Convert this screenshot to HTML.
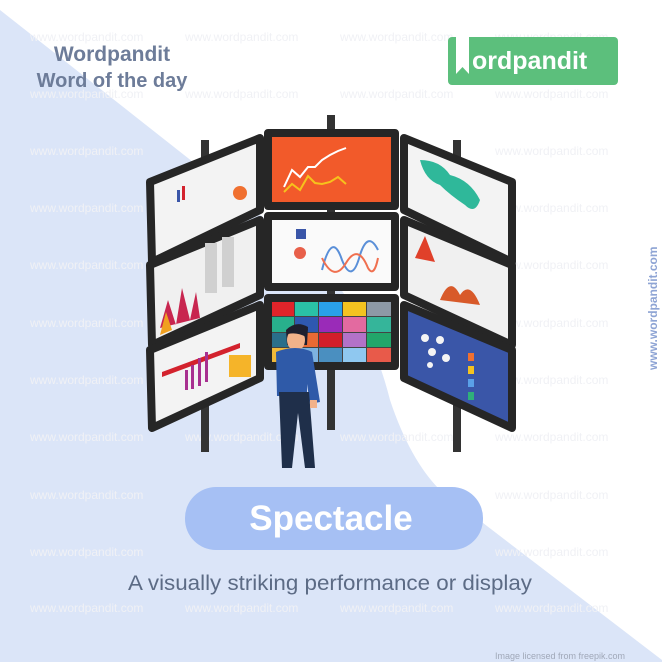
<!DOCTYPE html>
<html><head><meta charset="utf-8"><style>
body{margin:0;width:662px;height:662px;overflow:hidden;background:#fff;font-family:"Liberation Sans",sans-serif}
svg{display:block}
</style></head><body>
<svg width="662" height="662" viewBox="0 0 662 662" xmlns="http://www.w3.org/2000/svg">
<path d="M0,10 L320,262 Q370,320 390,400 Q410,460 440,490 L662,660 L662,662 L0,662 Z" fill="#dbe5f8"/>
<g font-family="Liberation Sans,sans-serif" font-size="12" fill="#f0f1f5">
<text x="30" y="41">www.wordpandit.com</text><text x="185" y="41">www.wordpandit.com</text><text x="340" y="41">www.wordpandit.com</text><text x="495" y="41">www.wordpandit.com</text>
<text x="30" y="98">www.wordpandit.com</text><text x="185" y="98">www.wordpandit.com</text><text x="340" y="98">www.wordpandit.com</text><text x="495" y="98">www.wordpandit.com</text>
<text x="30" y="155">www.wordpandit.com</text><text x="495" y="155">www.wordpandit.com</text>
<text x="30" y="212">www.wordpandit.com</text><text x="495" y="212">www.wordpandit.com</text>
<text x="30" y="269">www.wordpandit.com</text><text x="495" y="269">www.wordpandit.com</text>
<text x="30" y="327">www.wordpandit.com</text><text x="495" y="327">www.wordpandit.com</text>
<text x="30" y="384">www.wordpandit.com</text><text x="495" y="384">www.wordpandit.com</text>
<text x="30" y="441">www.wordpandit.com</text><text x="185" y="441">www.wordpandit.com</text><text x="340" y="441">www.wordpandit.com</text><text x="495" y="441">www.wordpandit.com</text>
<text x="30" y="499">www.wordpandit.com</text><text x="495" y="499">www.wordpandit.com</text>
<text x="30" y="556">www.wordpandit.com</text><text x="495" y="556">www.wordpandit.com</text>
<text x="30" y="612">www.wordpandit.com</text><text x="185" y="612">www.wordpandit.com</text><text x="340" y="612">www.wordpandit.com</text><text x="495" y="612">www.wordpandit.com</text>
</g>
<text x="112" y="61" text-anchor="middle" font-size="21" font-weight="bold" fill="#6d7c99">Wordpandit</text>
<text x="112" y="87" text-anchor="middle" font-size="20" font-weight="bold" fill="#6d7c99">Word of the day</text>
<rect x="448" y="37" width="170" height="48" rx="4" fill="#5cbf7c"/>
<path d="M456,34 h13 v40 l-6.5,-7 l-6.5,7 z" fill="#fff"/>
<text x="472" y="69" font-size="25" font-weight="bold" fill="#fff">ordpandit</text>
<text transform="translate(657,370) rotate(-90)" font-size="12" font-weight="bold" fill="#8ea4d4">www.wordpandit.com</text>
<g fill="#333">
<rect x="201" y="140" width="8" height="312"/><rect x="327" y="115" width="8" height="315"/><rect x="453" y="140" width="8" height="312"/>
</g>
<g stroke="#262626" stroke-width="8" stroke-linejoin="round">
<polygon points="150,182 260,138 260,210 152,262" fill="#f3f3f3"/>
<polygon points="150,265 260,220 260,295 152,345" fill="#f0f0f0"/>
<polygon points="150,350 260,305 260,378 152,428" fill="#f3f3f3"/>
<polygon points="404,138 512,182 512,262 404,210" fill="#f3f3f3"/>
<polygon points="404,220 512,265 512,345 404,295" fill="#f0f0f0"/>
<polygon points="404,305 512,350 512,428 404,378" fill="#3a56a8"/>
<rect x="268" y="133" width="127" height="73" fill="#f25a2a"/>
<rect x="268" y="216" width="127" height="71" fill="#fafafa"/>
<rect x="268" y="298" width="127" height="68" fill="#444"/>
</g>
<g>
<rect x="272" y="302" width="22" height="14" fill="#e0242a"/><rect x="295" y="302" width="23" height="14" fill="#2ac1a6"/><rect x="319" y="302" width="23" height="14" fill="#2aa0e8"/><rect x="343" y="302" width="23" height="14" fill="#f4c320"/><rect x="367" y="302" width="24" height="14" fill="#8d99a6"/>
<rect x="272" y="317" width="22" height="15" fill="#28b08c"/><rect x="295" y="317" width="23" height="15" fill="#2f58b0"/><rect x="319" y="317" width="23" height="15" fill="#9a2bb8"/><rect x="343" y="317" width="23" height="15" fill="#e36aa0"/><rect x="367" y="317" width="24" height="15" fill="#35b59a"/>
<rect x="272" y="333" width="22" height="14" fill="#2a6f8a"/><rect x="295" y="333" width="23" height="14" fill="#e86a35"/><rect x="319" y="333" width="23" height="14" fill="#d21e2a"/><rect x="343" y="333" width="23" height="14" fill="#b372c8"/><rect x="367" y="333" width="24" height="14" fill="#22a66a"/>
<rect x="272" y="348" width="22" height="14" fill="#f0b93a"/><rect x="295" y="348" width="23" height="14" fill="#7db2e0"/><rect x="319" y="348" width="23" height="14" fill="#4a8fc0"/><rect x="343" y="348" width="23" height="14" fill="#8fc8f0"/><rect x="367" y="348" width="24" height="14" fill="#e85a4a"/>
</g>
<polyline points="284,187 292,170 300,177 308,167 315,167 322,160 330,155 338,151 346,148" fill="none" stroke="#fff" stroke-width="2"/>
<polyline points="284,192 292,184 300,190 308,176 315,183 322,184 330,182 338,177 346,184" fill="none" stroke="#f6c21c" stroke-width="2"/>
<path d="M322,270 q10,-40 20,-10 q10,25 18,-5 q8,-25 18,-5" fill="none" stroke="#5a8fd8" stroke-width="2"/>
<path d="M322,258 q12,25 24,5 q12,-20 22,5 q6,10 10,-10" fill="none" stroke="#f07050" stroke-width="2"/>
<circle cx="300" cy="253" r="6" fill="#e8604a"/><rect x="296" y="229" width="10" height="10" fill="#3a56a8"/>
<polygon points="160,328 168,300 176,325 182,288 190,320 196,292 200,318" fill="#c8264f"/>
<polygon points="160,335 166,312 172,330" fill="#f0a020"/>
<rect x="205" y="243" width="12" height="50" fill="#d0d0d0"/><rect x="222" y="237" width="12" height="50" fill="#d0d0d0"/>
<polygon points="162,372 240,343 240,348 162,377" fill="#d3222d"/>
<rect x="229" y="355" width="22" height="22" fill="#f5b429"/>
<g fill="#a83090"><rect x="185" y="370" width="3" height="20"/><rect x="191" y="365" width="3" height="24"/><rect x="198" y="358" width="3" height="28"/><rect x="205" y="352" width="3" height="30"/></g>
<rect x="177" y="190" width="3" height="12" fill="#3a56a8"/><rect x="182" y="186" width="3" height="14" fill="#d3222d"/><circle cx="240" cy="193" r="7" fill="#f07030"/>
<path d="M420,160 q20,0 30,15 q20,5 30,25 q-5,15 -15,5 q-15,-10 -25,-20 q-15,-5 -20,-25z" fill="#2fb89a"/>
<polygon points="415,258 425,236 435,262" fill="#e0402a"/>
<path d="M440,300 q10,-25 20,-5 q10,-15 20,10 z" fill="#d85a2a"/>
<g fill="#f4f4f4"><circle cx="425" cy="338" r="4"/><circle cx="440" cy="340" r="4"/><circle cx="432" cy="352" r="4"/><circle cx="446" cy="358" r="4"/><circle cx="430" cy="365" r="3"/></g>
<rect x="468" y="353" width="6" height="8" fill="#f07030"/><rect x="468" y="366" width="6" height="8" fill="#f4c320"/><rect x="468" y="379" width="6" height="8" fill="#5aa0e8"/><rect x="468" y="392" width="6" height="8" fill="#2fb07a"/>
<path d="M286,330 q10,-10 22,-3 l-1,18 l-20,0z" fill="#1f1f2e"/>
<ellipse cx="296" cy="340" rx="9" ry="11" fill="#f2b28a"/>
<path d="M288,334 q8,-12 20,-5 l-2,8 q-9,-5 -18,-3z" fill="#1f1f2e"/>
<path d="M276,352 q20,-8 36,0 l8,50 l-10,2 l-3,-20 l0,12 l-30,0 z" fill="#2f5aa8"/>
<path d="M279,392 l30,0 l6,76 l-10,0 l-7,-55 l-6,55 l-10,0 z" fill="#1f2f4a"/>
<rect x="310" y="400" width="7" height="8" fill="#f2b28a"/>
<rect x="185" y="487" width="298" height="63" rx="31" fill="#a6c0f4"/>
<text x="331" y="530" text-anchor="middle" font-size="35" font-weight="bold" fill="#fff">Spectacle</text>
<text x="128" y="590" font-size="21" fill="#5c6b85" textLength="404" lengthAdjust="spacingAndGlyphs">A visually striking performance or display</text>
<text x="560" y="659" text-anchor="middle" font-size="9" fill="#a0a8b8">Image licensed from freepik.com</text>
</svg>
</body></html>
